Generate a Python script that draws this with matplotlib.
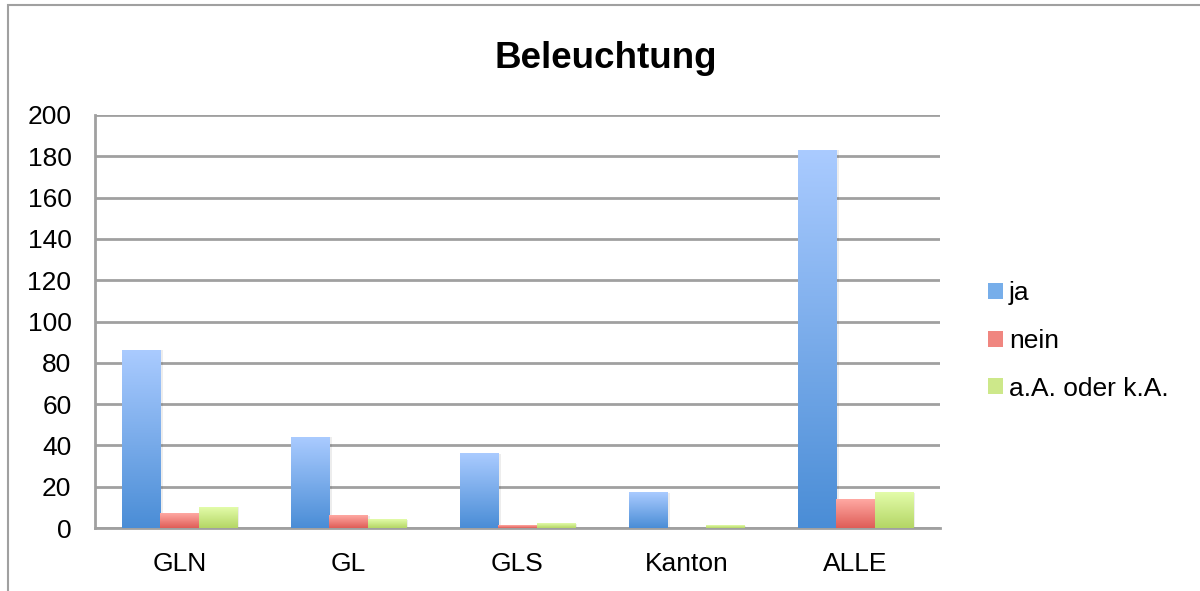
import numpy as np
import matplotlib as mpl
import matplotlib.pyplot as plt
from matplotlib.colors import LinearSegmentedColormap
from matplotlib.patches import Rectangle, Patch

mpl.use('agg')
plt.rcParams['font.family'] = ['Liberation Sans', 'DejaVu Sans']

categories = ["GLN", "GL", "GLS", "Kanton", "ALLE"]
ja = [86, 44, 36, 17, 183]
nein = [7, 6, 1, 0, 14]
ka = [10, 4, 2, 1, 17]
series_names = ["ja", "nein", "a.A. oder k.A."]

# (bottom colour, top colour) for the vertical gradient of each series
grad_colors = [("#4a8dd6", "#aacbff"),
               ("#df5d57", "#ffa9a3"),
               ("#b4d665", "#e3fcaa")]
legend_colors = ["#77aeea", "#f08680", "#cde88a"]

fig = plt.figure(figsize=(12, 5.91), dpi=100)
ax = fig.add_axes([95 / 1200, 1 - 528 / 591, 845 / 1200, 413 / 591])

x = np.arange(len(categories))
w = 0.225
grad = np.linspace(0, 1, 256).reshape(-1, 1)

for i, vals in enumerate([ja, nein, ka]):
    cmap = LinearSegmentedColormap.from_list("g%d" % i, grad_colors[i])
    bars = ax.bar(x + (i - 1) * w, vals, w, color=grad_colors[i][0],
                  linewidth=0, zorder=3)
    for b in bars:
        bx, by = b.get_x(), b.get_y()
        bw, bh = b.get_width(), b.get_height()
        if bh <= 0:
            continue
        # faint shadow
        ax.add_patch(Rectangle((bx + 0.012, by), bw, bh, color="#000000",
                               alpha=0.07, linewidth=0, zorder=2))
        ax.imshow(grad, extent=[bx, bx + bw, by, by + bh], origin="lower",
                  cmap=cmap, aspect="auto", zorder=4, interpolation="bilinear")

ax.set_xlim(-0.5, len(categories) - 0.5)
ax.set_ylim(0, 200)
ax.set_yticks(range(0, 201, 20))
ax.set_xticks(x)
ax.set_xticklabels(categories)
ax.tick_params(axis="both", length=0, labelsize=19, colors="black")
ax.tick_params(axis="y", pad=17)
ax.tick_params(axis="x", pad=17)
ax.grid(axis="y", color="#a0a0a0", linewidth=2, zorder=1)
for s in ["top", "right"]:
    ax.spines[s].set_visible(False)
for s in ["left", "bottom"]:
    ax.spines[s].set_color("#a0a0a0")
    ax.spines[s].set_linewidth(2)

fig.text(606 / 1200, 1 - 59 / 591, "Beleuchtung", ha="center", va="center",
         fontsize=26.5, fontweight="bold")

handles = [Patch(facecolor=c, edgecolor="none") for c in legend_colors]
fig.legend(handles, series_names, loc="center left",
           bbox_to_anchor=(988 / 1200, 1 - 341 / 591), frameon=False,
           borderpad=0, borderaxespad=0, fontsize=19, handlelength=0.55,
           handleheight=0.55, handletextpad=0.25, labelspacing=0.9)

fig.patches.append(Rectangle((8 / 1200, -0.1), 1.1, 1 - 5 / 591 + 0.1,
                             transform=fig.transFigure, fill=False,
                             edgecolor="#a0a0a0", linewidth=1.5))

fig.savefig("out.png", dpi=100)
